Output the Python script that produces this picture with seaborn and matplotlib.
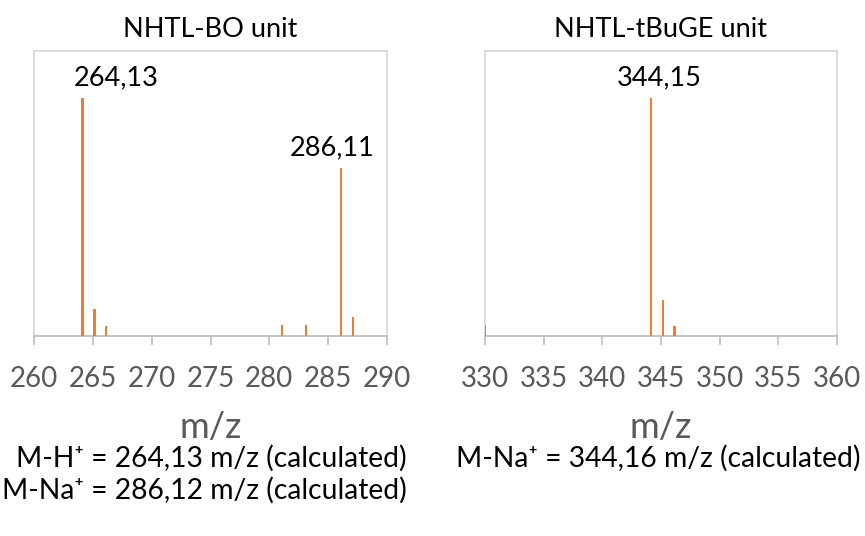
import matplotlib
matplotlib.use("Agg")
import matplotlib.pyplot as plt
import seaborn as sns
import pandas as pd

# Mass spectra (relative intensity, base peak = 100)
bo_mz = [264.13, 265.13, 266.13, 281.10, 283.10, 286.11, 287.11]
bo_int = [100.0, 11.2, 4.2, 4.6, 4.6, 70.8, 8.1]
bo_labelled = [264.13, 286.11]

tb_mz = [330.00, 344.15, 345.15, 346.16]
tb_int = [4.8, 100.0, 15.1, 4.2]
tb_labelled = [344.15]

titles = ["NHTL-BO unit", "NHTL-tBuGE unit"]
xranges = [(260, 290), (330, 360)]
notes_left = ["M-H\u207a = 264,13 m/z (calculated)",
              "M-Na\u207a = 286,12 m/z (calculated)"]
notes_right = ["M-Na\u207a = 344,16 m/z (calculated)"]

sns.set_theme(style="white")
plt.rcParams["font.family"] = ["Lato", "DejaVu Sans"]

ORANGE = "#ED7D31"
FRAME = "#D9D9D9"
AXIS = "#BFBFBF"
TEXT = "#595959"

fig = plt.figure(figsize=(8.65, 5.36), dpi=100)
ax1 = fig.add_axes([34 / 865, 200 / 536, 353 / 865, 285 / 536])
ax2 = fig.add_axes([485 / 865, 200 / 536, 352 / 865, 285 / 536])

panels = [
    (ax1, bo_mz, bo_int, bo_labelled, [34, -9]),
    (ax2, tb_mz, tb_int, tb_labelled, [8]),
]

for i, (ax, mz, inten, labelled, dx) in enumerate(panels):
    df = pd.DataFrame({"mz": mz, "intensity": inten})
    sns.barplot(data=df, x="mz", y="intensity", native_scale=True,
                width=0.2, color=ORANGE, saturation=1, linewidth=0,
                errorbar=None, ax=ax)
    for p in ax.patches:
        p.set_zorder(3)
    lo, hi = xranges[i]
    ax.set_xlim(lo, hi)
    ax.set_ylim(0, 120)
    ax.set_xticks(range(lo, hi + 1, 5))
    ax.set_xticklabels([str(v) for v in range(lo, hi + 1, 5)])
    ax.set_yticks([])
    ax.set_ylabel("")
    ax.set_xlabel("m/z", fontsize=26, color=TEXT, labelpad=14)
    ax.set_title(titles[i], fontsize=19.5, color="black", pad=10)
    for side in ["left", "right", "top"]:
        ax.spines[side].set_color(FRAME)
        ax.spines[side].set_linewidth(1.3)
    ax.spines["bottom"].set_color(AXIS)
    ax.spines["bottom"].set_linewidth(1.3)
    ax.tick_params(axis="x", direction="out", length=6.5, width=1.2,
                   color=AXIS, labelsize=20, labelcolor=TEXT, pad=15,
                   bottom=True)
    for v, off in zip(labelled, dx):
        h = inten[mz.index(v)]
        ax.annotate(f"{v:.2f}".replace(".", ","), xy=(v, h),
                    xytext=(off, 8), textcoords="offset pixels",
                    ha="center", va="bottom", fontsize=19.5, color="black")

fig.text(407 / 865, 1 - 458 / 536, notes_left[0], ha="right", va="center",
         fontsize=20.3, color="black")
fig.text(407 / 865, 1 - 490 / 536, notes_left[1], ha="right", va="center",
         fontsize=20.3, color="black")
fig.text(860 / 865, 1 - 458 / 536, notes_right[0], ha="right", va="center",
         fontsize=20.3, color="black")

fig.savefig("out.png", dpi=100)
